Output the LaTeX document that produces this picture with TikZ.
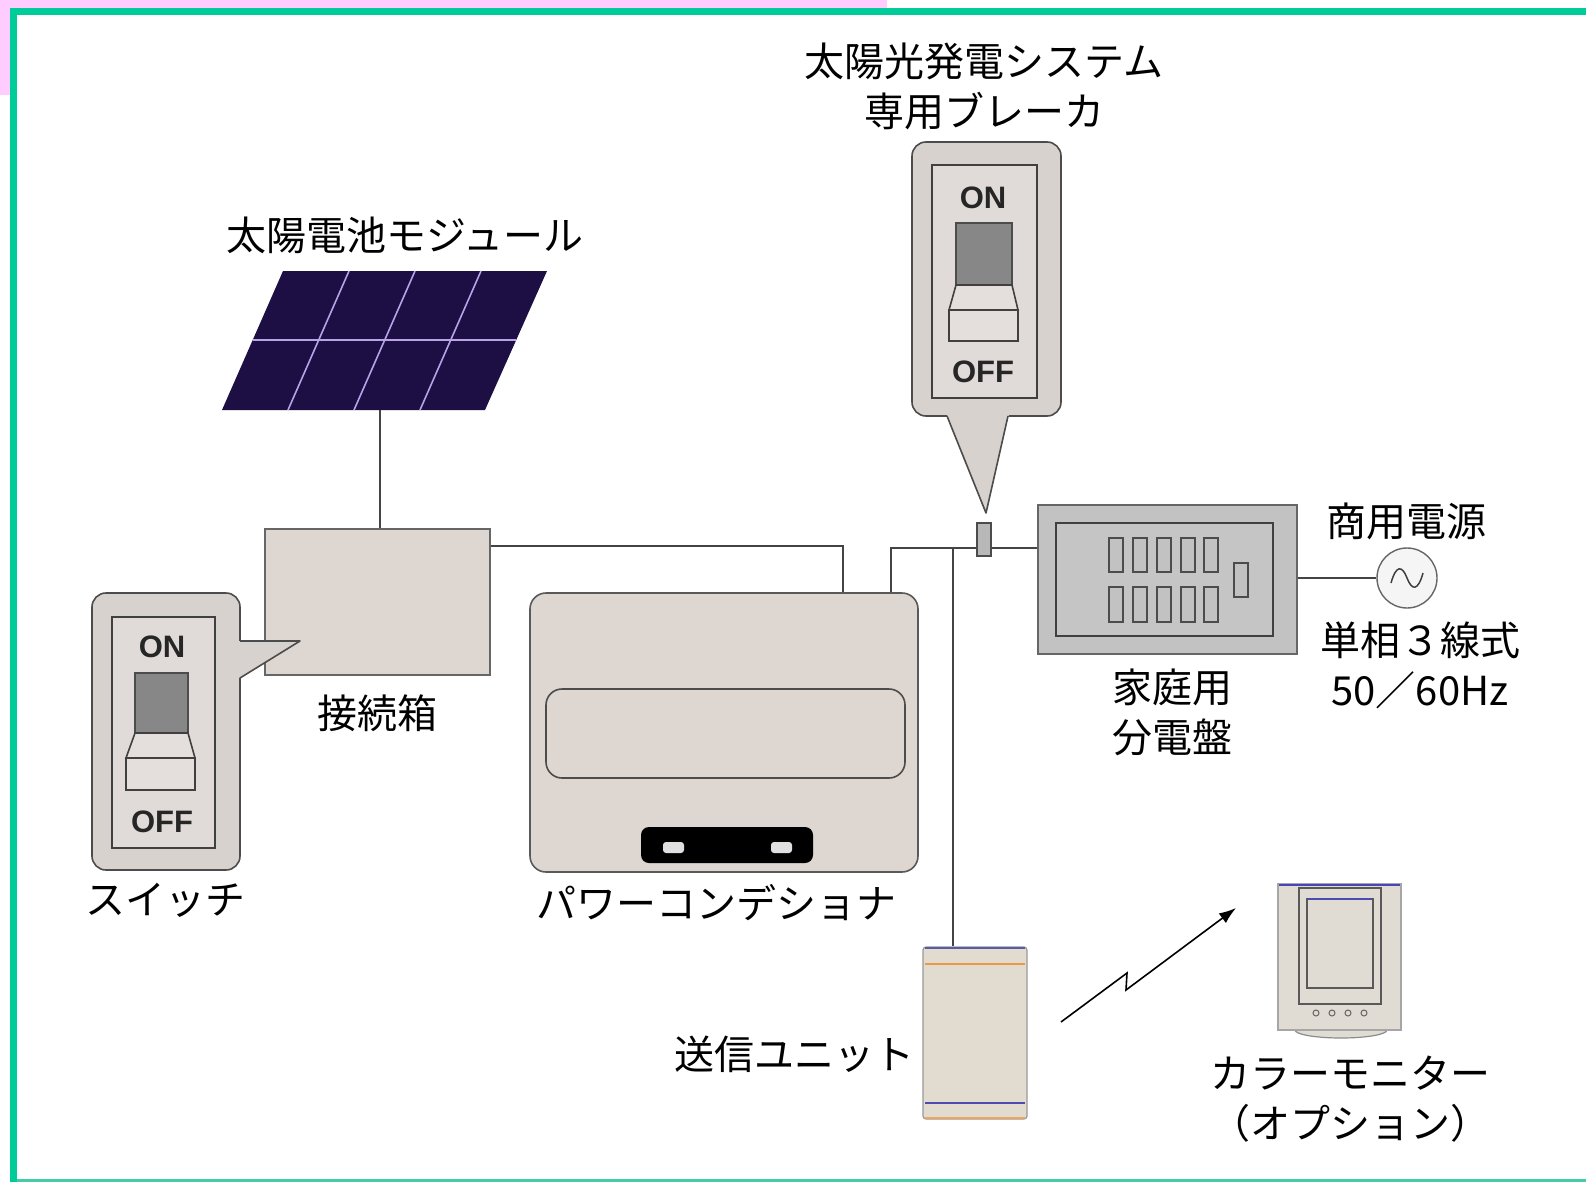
\documentclass[tikz,border=0pt]{standalone}
\usepackage{fontspec}
\newfontfamily\jpfont{Noto Sans CJK JP}
\newfontfamily\swfont{Liberation Sans}
\usetikzlibrary{arrows.meta}

\definecolor{frameGreen}{HTML}{00CC99}
\definecolor{edgeGreen}{HTML}{44CCAA}
\definecolor{cornerPink}{HTML}{FFCCFF}
\definecolor{beige}{HTML}{DDD6D1}
\definecolor{calloutFill}{HTML}{D8D2CE}
\definecolor{knobGray}{HTML}{878787}
\definecolor{boardGray}{HTML}{C2C2C2}
\definecolor{panelBlue}{HTML}{1D0E44}
\definecolor{panelLine}{HTML}{B8A2E8}
\definecolor{wireGray}{HTML}{444444}
\definecolor{unitFill}{HTML}{E2DBCF}
\definecolor{monFill}{HTML}{E1DCD3}

\tikzset{
  label/.style={font=\jpfont\fontsize{40}{50}\selectfont, align=center, inner sep=0pt, text=black},
  swtext/.style={font=\swfont\bfseries\fontsize{31}{31}\selectfont, inner sep=0pt, text=black!85},
  wire/.style={draw=wireGray, line width=1.5pt},
  calloutbody/.style={fill=calloutFill, draw=black!70, line width=1.6pt, rounded corners=14pt},
  calloutinner/.style={fill=calloutFill!80!white, draw=black!75, line width=2pt},
  knob/.style={fill=knobGray, draw=black!70, line width=1.4pt},
  lever/.style={fill=calloutFill!70!white, draw=black!75, line width=1.6pt},
  beigebox/.style={fill=beige, draw=black!60, line width=1.2pt, inner sep=0pt},
  cell/.style={draw=black!70, line width=1.4pt, fill=boardGray},
}

\begin{document}
\begin{tikzpicture}[x=1pt, y=-1pt]
  % page, corner tint and frame
  \useasboundingbox (0,0) rectangle (1586,1182);
  \fill[white] (0,0) rectangle (1586,1182);
  \fill[cornerPink] (0,0) rectangle (887,95);
  \fill[frameGreen] (10,8) rectangle (1586,1182);
  \fill[white] (17,15) rectangle (1586,1179);
  \fill[edgeGreen] (17,1179) rectangle (1586,1182);

  % ---------- solar module ----------
  \fill[panelBlue] (283,271) -- (547,271) -- (485,410) -- (222,410) -- cycle;
  \draw[panelLine, line width=1.6pt] (252.7,340) -- (516.2,340);
  \foreach \a/\b in {349/288, 415/354, 481/420}
    \draw[panelLine, line width=1.6pt] (\a,271) -- (\b,410);
  \coordinate (panel) at (380,410);
  \node[label] (lpanel) at (405,235) {太陽電池モジュール};

  % ---------- junction box ----------
  \node[beigebox, minimum width=225pt, minimum height=146pt] (jb) at (377.5,602) {};
  \node[label] (ljb) at (377,713) {接続箱};

  % ---------- power conditioner ----------
  \node[beigebox, draw=black!65, line width=1.6pt, rounded corners=16pt,
        minimum width=388pt, minimum height=279pt] (pcs) at (724,732.5) {};
  \draw[black!70, line width=1.6pt, rounded corners=16pt] (546,689) rectangle (905,778);
  \fill[black, rounded corners=8pt] (641,827) rectangle (813,863);
  \fill[black!12, rounded corners=3pt] (663,842) rectangle (684,853);
  \fill[black!12, rounded corners=3pt] (771,842) rectangle (792,853);
  \node[label] (lpcs) at (716,903) {パワーコンデショナ};

  % ---------- distribution board ----------
  \node[draw=black!60, line width=1.4pt, fill=boardGray, inner sep=0pt,
        minimum width=259pt, minimum height=149pt] (db) at (1167.5,579.5) {};
  \draw[black!75, line width=1.6pt, fill=boardGray!95!white] (1056,523) rectangle (1273,636);
  \foreach \x in {1109,1133,1157,1181,1204} {
    \draw[cell] (\x,538) rectangle ++(14,34);
    \draw[cell] (\x,587) rectangle ++(14,35);
  }
  \draw[cell] (1234,563) rectangle (1248,597);
  \node[label] (ldb) at (1172,712) {家庭用\\分電盤};

  % ---------- utility supply ----------
  \node[circle, draw=black!60, line width=1.4pt, fill=black!4, minimum size=60pt, inner sep=0pt] (ac) at (1407,578) {};
  \draw[black!75, line width=1.5pt] (1391,583) .. controls (1396,565) and (1402,565) .. (1407,578)
        .. controls (1412,591) and (1418,591) .. (1423,573);
  \node[label] (lac) at (1406,521) {商用電源};
  \node[label] (lphase) at (1420,665) {単相３線式\\50／60Hz};

  % ---------- breaker on the AC line ----------
  \node[fill=black!28, draw=black!70, line width=1.2pt, inner sep=0pt,
        minimum width=14pt, minimum height=33pt] (brk) at (984,539.5) {};

  % ---------- transmitter unit ----------
  \node[fill=unitFill, draw=black!40, line width=1.2pt, rounded corners=3pt, inner sep=0pt,
        minimum width=104pt, minimum height=172pt] (tx) at (975,1033) {};
  \draw[orange!60!brown!80, line width=1.3pt] (925,964) -- (1025,964);
  \draw[blue!40!gray, line width=1.3pt] (925,1103) -- (1025,1103);
  \draw[blue!30!gray, line width=1.3pt] (925,948) -- (1025,948);
  \draw[orange!60!brown!70, line width=1.3pt] (925,1118) -- (1025,1118);
  \node[label] (ltx) at (794,1054) {送信ユニット};

  % ---------- colour monitor ----------
  \fill[monFill] (1295,1030) arc[start angle=180, end angle=360, x radius=46pt, y radius=8pt] -- cycle;
  \draw[black!45, line width=1.2pt] (1295,1030) arc[start angle=180, end angle=360, x radius=46pt, y radius=8pt];
  \node[fill=monFill, draw=black!35, line width=1.2pt, inner sep=0pt,
        minimum width=123pt, minimum height=146pt] (mon) at (1339.5,957) {};
  \draw[blue!45!gray, line width=1.4pt] (1279,885) -- (1400,885);
  \draw[black!65, line width=1.4pt] (1299,888) rectangle (1381,1004);
  \draw[black!65, line width=1.4pt] (1307,899) rectangle (1373,988);
  \draw[blue!40!gray, line width=1.2pt] (1308,899) -- (1372,899);
  \foreach \x in {1316,1332,1348,1364}
    \draw[black!60, line width=1pt] (\x,1013) circle[radius=3pt];
  \node[label] (lmon) at (1350,1099) {カラーモニター\\（オプション）};

  % ---------- switch callout at the junction box ----------
  \draw[calloutbody] (92,593) rectangle (240,870);
  \fill[calloutFill] (234,641) -- (300,641) -- (234,681) -- cycle;
  \draw[black!70, line width=1.6pt, line join=round] (240,641) -- (300,641) -- (240,678);
  \draw[calloutinner] (112,617) rectangle (215,848);
  \node[swtext] (on1) at (162,647) {ON};
  \draw[knob] (135,673) rectangle (188,733);
  \draw[lever] (135,733) -- (188,733) -- (195,758) -- (126,758) -- cycle;
  \draw[lever] (126,758) rectangle (195,790);
  \node[swtext] (off1) at (162,822) {OFF};
  \node[label] (lsw) at (165,900) {スイッチ};

  % ---------- breaker callout ----------
  \draw[calloutbody] (912,142) rectangle (1061,416);
  \fill[calloutFill] (945,410) -- (1010,410) -- (986,513) -- cycle;
  \draw[black!70, line width=1.6pt, line join=round] (947,416) -- (986,513) -- (1008,416);
  \draw[calloutinner] (932,165) rectangle (1037,398);
  \node[swtext] (on2) at (983,198) {ON};
  \draw[knob] (956,223) rectangle (1012,285);
  \draw[lever] (956,285) -- (1012,285) -- (1018,310) -- (949,310) -- cycle;
  \draw[lever] (949,310) rectangle (1018,341);
  \node[swtext] (off2) at (983,372) {OFF};
  \node[label] (lbrk) at (984,86) {太陽光発電システム\\専用ブレーカ};

  % ---------- wiring ----------
  \coordinate (w1) at (843,546);
  \coordinate (w2) at (891,548);
  \coordinate (w3) at (953,548);
  \draw[wire] (panel) -- (panel |- jb.north);
  \draw[wire] (jb.east |- w1) -- (w1) -- (w1 |- pcs.north);
  \draw[wire] (w2 |- pcs.north) -- (w2) -- (brk.west |- w2);
  \draw[wire] (brk.east |- w2) -- (db.west |- w2);
  \draw[wire] (w3) -- (w3 |- tx.north);
  \draw[wire] (db.east |- ac) -- (ac.west);

  % ---------- wireless link ----------
  \coordinate (z0) at (1061,1022);
  \coordinate (z1) at (1127,973);
  \coordinate (z2) at (1126,990);
  \coordinate (z3) at (1236,908);
  \draw[black, line width=1.6pt, -{Latex[length=17pt, width=12pt]}] (z0) -- (z1) -- (z2) -- (z3);
\end{tikzpicture}
\end{document}
